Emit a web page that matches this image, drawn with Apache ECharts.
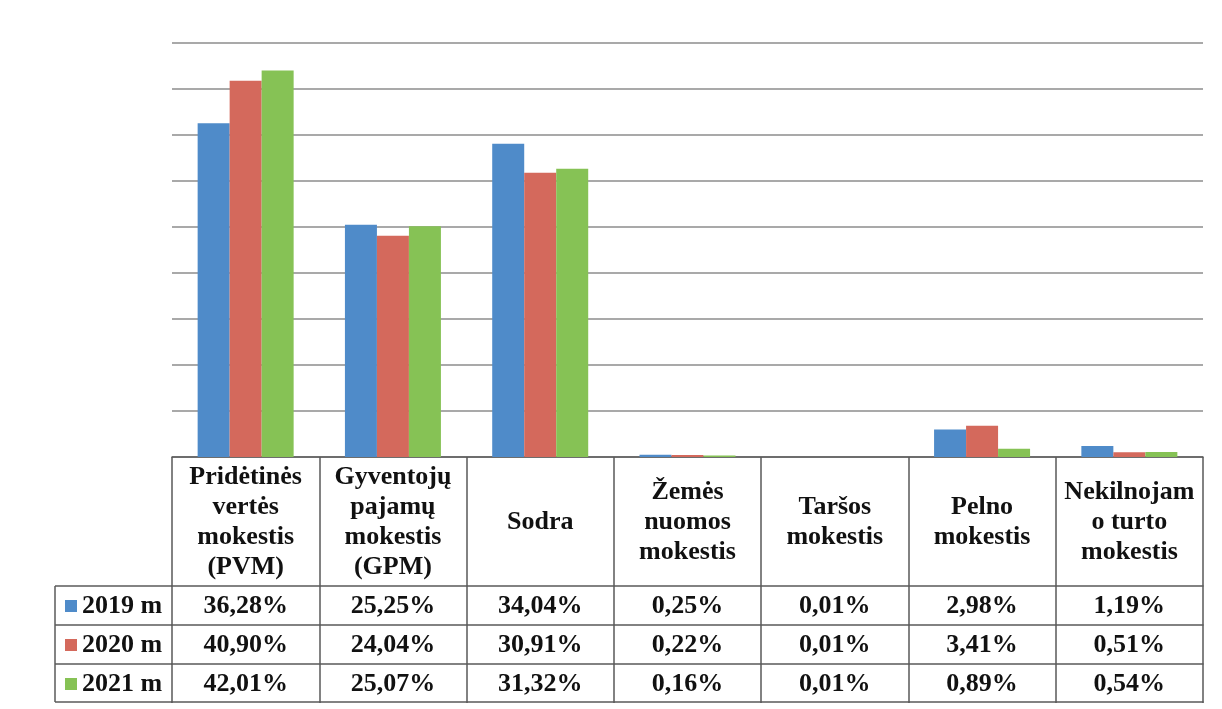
<!DOCTYPE html>
<html>
<head>
<meta charset="utf-8">
<script src="https://cdn.jsdelivr.net/npm/echarts@6/dist/echarts.min.js"></script>
<style>
html,body{margin:0;padding:0;background:#fff;}
#chart{width:1222px;height:709px;}
</style>
</head>
<body>
<div id="chart"></div>
<script>
var categories = ['Pridėtinės\nvertės\nmokestis\n(PVM)', 'Gyventojų\npajamų\nmokestis\n(GPM)', 'Sodra', 'Žemės\nnuomos\nmokestis', 'Taršos\nmokestis', 'Pelno\nmokestis', 'Nekilnojam\no turto\nmokestis'];
var seriesNames = ['2019 m', '2020 m', '2021 m'];
var v2019 = [36.28, 25.25, 34.04, 0.25, 0.01, 2.98, 1.19];
var v2020 = [40.90, 24.04, 30.91, 0.22, 0.01, 3.41, 0.51];
var v2021 = [42.01, 25.07, 31.32, 0.16, 0.01, 0.89, 0.54];
var colors = ['#4f8bc9', '#d4695c', '#86c255'];

function fmt(v){ return v.toFixed(2).replace('.', ',') + '%'; }

var FONT = "'Liberation Serif','Times New Roman',serif";
var lineCol = '#5a5a5a';

var chart = echarts.init(document.getElementById('chart'), null, {renderer:'canvas'});

function valueAxis(data, offset){
  return {
    type:'category', position:'bottom', gridIndex:0, offset:offset,
    data:data,
    axisLine:{show:true, lineStyle:{color:lineCol, width:1.5}},
    axisTick:{show:false},
    axisLabel:{interval:0, margin:20, verticalAlign:'middle', fontFamily:FONT, fontWeight:'bold', fontSize:26, color:'#111'},
    splitLine:{show:false}
  };
}

var legendTops = [593, 632, 671];

var option = {
  backgroundColor:'#fff',
  animation:false,
  color:colors,
  grid:{left:172, right:19, top:43, bottom:252, containLabel:false},
  legend: seriesNames.map(function(n, i){
    return {
      data:[n], left:65, top:legendTops[i], orient:'horizontal',
      icon:'rect', itemWidth:12, itemHeight:12, itemGap:0, padding:0,
      selectedMode:false,
      textStyle:{fontFamily:FONT, fontWeight:'bold', fontSize:26, color:'#111', lineHeight:26}
    };
  }),
  xAxis:[
    {
      type:'category', position:'bottom', offset:0, data:categories,
      axisLine:{show:true, lineStyle:{color:lineCol, width:1.5}},
      axisTick:{show:true, interval:0, length:246, lineStyle:{color:lineCol, width:1.5}},
      axisLabel:{interval:0, margin:65, verticalAlign:'middle', lineHeight:30, fontFamily:FONT, fontWeight:'bold', fontSize:26, color:'#111'},
      splitLine:{show:false}
    },
    valueAxis(v2019.map(fmt), 129),
    valueAxis(v2020.map(fmt), 168),
    valueAxis(v2021.map(fmt), 207),
    {
      type:'category', position:'bottom', offset:245, data:categories,
      axisLine:{show:true, lineStyle:{color:lineCol, width:1.5}},
      axisTick:{show:false}, axisLabel:{show:false}, splitLine:{show:false}
    }
  ],
  yAxis:{
    type:'value', min:0, max:45, interval:5,
    axisLine:{show:false}, axisTick:{show:false}, axisLabel:{show:false},
    splitLine:{show:true, lineStyle:{color:'#8c8c8c', width:1.6}}
  },
  series:[
    {name:seriesNames[0], type:'bar', data:v2019, barWidth:32, barGap:'0%', xAxisIndex:0},
    {name:seriesNames[1], type:'bar', data:v2020, barWidth:32, barGap:'0%', xAxisIndex:0},
    {name:seriesNames[2], type:'bar', data:v2021, barWidth:32, barGap:'0%', xAxisIndex:0}
  ],
  graphic:[
    {type:'line', shape:{x1:55, y1:586, x2:172, y2:586}, style:{stroke:lineCol, lineWidth:1.5}},
    {type:'line', shape:{x1:55, y1:625, x2:172, y2:625}, style:{stroke:lineCol, lineWidth:1.5}},
    {type:'line', shape:{x1:55, y1:664, x2:172, y2:664}, style:{stroke:lineCol, lineWidth:1.5}},
    {type:'line', shape:{x1:55, y1:702, x2:172, y2:702}, style:{stroke:lineCol, lineWidth:1.5}},
    {type:'line', shape:{x1:55, y1:586, x2:55, y2:702}, style:{stroke:lineCol, lineWidth:1.5}}
  ]
};
chart.setOption(option);
</script>
</body>
</html>
